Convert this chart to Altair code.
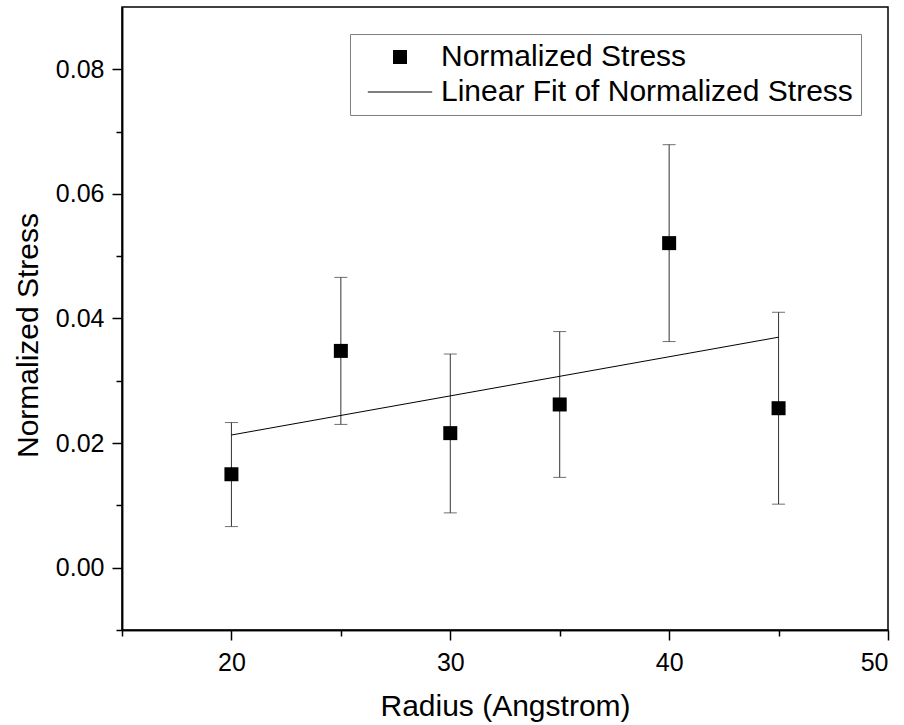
import altair as alt
import pandas as pd

# ---- data ----
radius = [20, 25, 30, 35, 40, 45]
stress = [0.0150, 0.0348, 0.0216, 0.0262, 0.0521, 0.0256]
stress_low = [0.0066, 0.0230, 0.0088, 0.0145, 0.0363, 0.0102]
stress_high = [0.0233, 0.0466, 0.0343, 0.0379, 0.0679, 0.0410]
fit_radius = [20, 45]
fit_stress = [0.0213, 0.0370]
series_names = ["Normalized Stress", "Linear Fit of Normalized Stress"]
x_major = [20, 30, 40, 50]
x_minor = [15, 25, 35, 45]
y_major = [0.0, 0.02, 0.04, 0.06, 0.08]
y_minor = [-0.01, 0.01, 0.03, 0.05, 0.07]

pts = pd.DataFrame({
    "radius": radius,
    "stress": stress,
    "low": stress_low,
    "high": stress_high,
    "series": [series_names[0]] * len(radius),
})
fit = pd.DataFrame({"radius": fit_radius, "stress": fit_stress})

FONT = "Liberation Sans"
xscale = alt.Scale(domain=[15, 50], nice=False, zero=False)
yscale = alt.Scale(domain=[-0.01, 0.09], nice=False, zero=False)

common_axis = dict(
    grid=False, domainColor="black", domainWidth=1.5, tickColor="black",
    tickWidth=1.5, labelFont=FONT, titleFont=FONT, labelColor="black",
    titleColor="black", titleFontWeight="normal",
)

x_axis_major = alt.Axis(
    values=x_major, orient="bottom", title="Radius (Angstrom)", tickSize=10,
    labelFontSize=25, titleFontSize=30, labelPadding=10, titlePadding=16,
    format="d", **common_axis,
)
y_axis_major = alt.Axis(
    values=y_major, orient="left", title="Normalized Stress", tickSize=10,
    labelFontSize=25, titleFontSize=30, labelPadding=8, titlePadding=12,
    titleY=328, format=".2f", **common_axis,
)
x_axis_minor = alt.Axis(
    values=x_minor, orient="bottom", title=None, tickSize=6, labels=False,
    **common_axis,
)
y_axis_minor = alt.Axis(
    values=y_minor, orient="left", title=None, tickSize=6, labels=False,
    **common_axis,
)

sq_path = "M-1,-1H1V1H-1Z"
line_path = "M-4.6,-0.07H4.6V0.07H-4.6Z"

# error bars (vertical segments) -- carries the minor axes
err = alt.Chart(pts).mark_rule(color="#333333", strokeWidth=1).encode(
    x=alt.X("radius:Q", scale=xscale, axis=x_axis_minor),
    y=alt.Y("low:Q", scale=yscale, axis=y_axis_minor),
    y2="high:Q",
)

cap_lo = alt.Chart(pts).mark_tick(
    color="#333333", orient="horizontal", size=13, thickness=1
).encode(
    x=alt.X("radius:Q", scale=xscale, axis=None),
    y=alt.Y("low:Q", scale=yscale, axis=None),
)
cap_hi = alt.Chart(pts).mark_tick(
    color="#333333", orient="horizontal", size=13, thickness=1
).encode(
    x=alt.X("radius:Q", scale=xscale, axis=None),
    y=alt.Y("high:Q", scale=yscale, axis=None),
)

fit_line = alt.Chart(fit).mark_line(color="black", strokeWidth=1).encode(
    x=alt.X("radius:Q", scale=xscale, axis=None),
    y=alt.Y("stress:Q", scale=yscale, axis=None),
)

points = alt.Chart(pts).mark_point(
    filled=True, size=196, color="black", opacity=1
).encode(
    x=alt.X("radius:Q", scale=xscale, axis=x_axis_major),
    y=alt.Y("stress:Q", scale=yscale, axis=y_axis_major),
    shape=alt.Shape(
        "series:N",
        scale=alt.Scale(domain=series_names, range=[sq_path, line_path]),
        legend=alt.Legend(
            title=None, orient="none", legendX=228, legendY=27,
            padding=8, strokeColor="#7f7f7f", fillColor="white",
            labelFont=FONT, labelFontSize=30, labelColor="black",
            labelLimit=700, labelOffset=26, symbolOffset=27,
            symbolSize=196, symbolFillColor="black", rowPadding=5,
            cornerRadius=0,
        ),
    ),
)

chart = (
    alt.layer(err, cap_lo, cap_hi, fit_line, points)
    .resolve_axis(x="independent", y="independent")
    .properties(
        width=766, height=623,
        padding={"left": 122, "top": 7, "right": 16, "bottom": 95},
        autosize="none", background="white",
    )
    .configure_view(stroke="black", strokeWidth=1.5)
)

chart.save("out.html", embed_options={"renderer": "svg", "actions": False})
